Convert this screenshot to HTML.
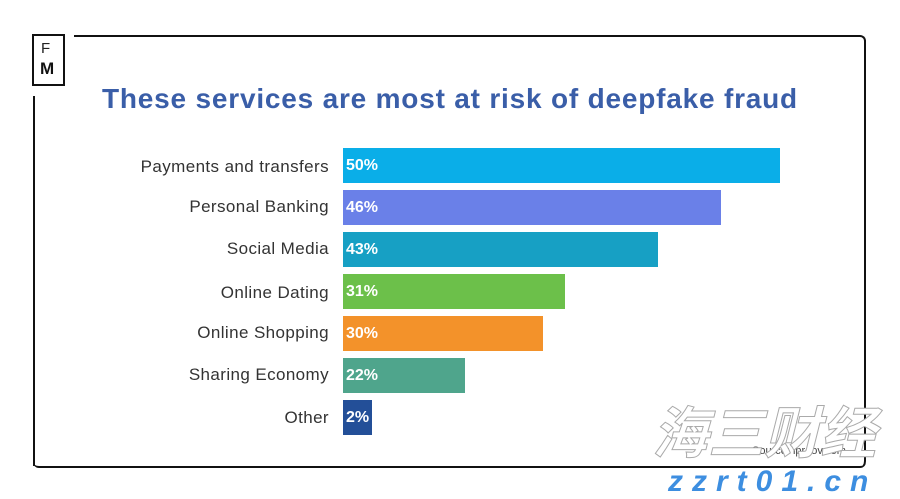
<!DOCTYPE html>
<html><head><meta charset="utf-8"><style>
body{margin:0;width:900px;height:499px;background:#fff;position:relative;overflow:hidden;font-family:"Liberation Sans",sans-serif}
.a{position:absolute;white-space:nowrap}
.bar{position:absolute;left:343px;height:35px}
.bar span{position:absolute;left:3px;top:9px;color:#fff;font-size:16px;font-weight:bold}
.lab{position:absolute;right:571px;font-size:17px;color:#333;text-align:right;white-space:nowrap;letter-spacing:0.4px}
</style></head><body>
<div class="a" style="left:33px;top:35px;width:831px;height:430px;border:2px solid #111;border-left:none;border-radius:0 6px 6px 0;border-bottom:none"></div>
<div class="a" style="left:33px;top:35px;width:833px;height:431px;border-bottom:2px solid #111;border-radius:0 0 6px 6px"></div>
<div class="a" style="left:33px;top:96px;width:2px;height:370px;background:#111"></div>
<div class="a" style="left:33px;top:35px;width:41px;height:3px;background:#fff"></div>
<div class="a" style="left:32px;top:34px;width:29px;height:48px;border:2px solid #111;background:#fff"></div>
<div class="a" style="left:41px;top:40px;font-size:15px;color:#222">F</div>
<div class="a" style="left:40px;top:59px;font-size:17px;font-weight:bold;color:#111">M</div>
<div class="a" style="left:102px;top:83px;font-size:28px;font-weight:bold;color:#3a5ea8;letter-spacing:0.8px">These services are most at risk of deepfake fraud</div>
<div class="lab" style="top:157px">Payments and transfers</div>
<div class="lab" style="top:197px">Personal Banking</div>
<div class="lab" style="top:239px">Social Media</div>
<div class="lab" style="top:283px">Online Dating</div>
<div class="lab" style="top:323px">Online Shopping</div>
<div class="lab" style="top:365px">Sharing Economy</div>
<div class="lab" style="top:408px">Other</div>
<div class="bar" style="top:148px;width:437px;background:#0aaee8"><span>50%</span></div>
<div class="bar" style="top:190px;width:378px;background:#6a80e8"><span>46%</span></div>
<div class="bar" style="top:232px;width:315px;background:#17a0c4"><span>43%</span></div>
<div class="bar" style="top:274px;width:222px;background:#6cc04a"><span>31%</span></div>
<div class="bar" style="top:316px;width:200px;background:#f3922a"><span>30%</span></div>
<div class="bar" style="top:358px;width:122px;background:#4fa58c"><span>22%</span></div>
<div class="bar" style="top:400px;width:29px;background:#234f98"><span>2%</span></div>
<div class="a" style="left:752px;top:445px;font-size:11px;color:#444">Source: iproov.com</div>
<div class="a" style="left:652px;top:398px;font-size:56px;line-height:64px;font-style:italic;font-weight:bold;color:#fff;-webkit-text-stroke:1px #aaa;font-family:'Noto Sans CJK SC',sans-serif">海三财经</div>
<div class="a" style="left:668px;top:466px;font-size:30px;line-height:32px;font-style:italic;font-weight:bold;color:#3d8ee0;letter-spacing:9px">zzrt01.cn</div>
</body></html>
